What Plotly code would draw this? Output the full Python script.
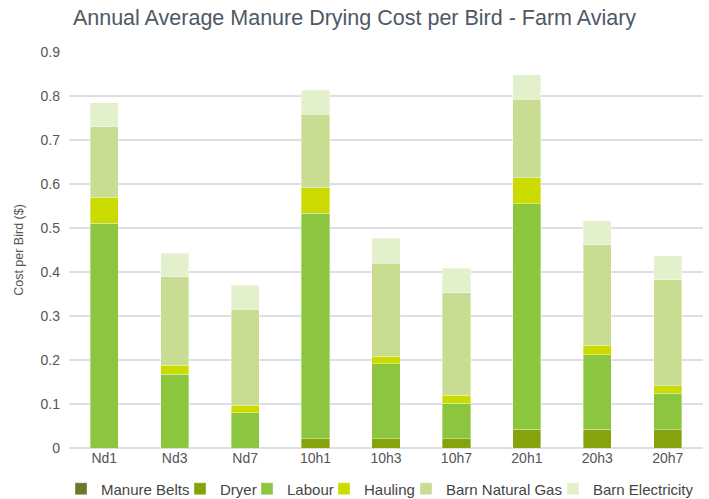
import plotly.graph_objects as go

categories = ["Nd1", "Nd3", "Nd7", "10h1", "10h3", "10h7", "20h1", "20h3", "20h7"]
manure_belts = [0, 0, 0, 0, 0, 0, 0, 0, 0]
dryer = [0, 0, 0, 0.021, 0.021, 0.021, 0.043, 0.043, 0.041]
labour = [0.511, 0.168, 0.080, 0.512, 0.170, 0.081, 0.512, 0.169, 0.083]
hauling = [0.059, 0.020, 0.017, 0.059, 0.018, 0.018, 0.059, 0.022, 0.018]
barn_gas = [0.160, 0.201, 0.218, 0.166, 0.211, 0.233, 0.179, 0.228, 0.240]
barn_elec = [0.055, 0.054, 0.055, 0.055, 0.057, 0.055, 0.055, 0.054, 0.055]

series = [
    ("Manure Belts", manure_belts, "#6b7a2a", 74),
    ("Dryer", dryer, "#86a30b", 22),
    ("Labour", labour, "#8cc63f", 32),
    ("Hauling", hauling, "#cbdb00", 37),
    ("Barn Natural Gas", barn_gas, "#c8dd92", 102),
    ("Barn Electricity", barn_elec, "#e3f0cc", 95),
]

fig = go.Figure()
for name, vals, color, lw in series:
    fig.add_trace(go.Bar(
        x=categories, y=vals, name=name, legendwidth=lw,
        marker=dict(color=color, line=dict(color="rgba(255,255,255,0.6)", width=0.6)),
    ))

font_family = "Liberation Sans, Arial, sans-serif"
fig.update_layout(
    barmode="stack",
    bargap=0.6,
    width=709, height=499,
    margin=dict(l=69, r=6, t=52, b=51, autoexpand=False),
    paper_bgcolor="white", plot_bgcolor="white",
    font=dict(family=font_family, size=14, color="#555555"),
    title=dict(text="Annual Average Manure Drying Cost per Bird - Farm Aviary",
               x=0.5, xanchor="center", y=0.965, yanchor="middle",
               font=dict(size=21.5, color="#4d5966", family=font_family)),
    yaxis=dict(range=[0, 0.9], dtick=0.1, showgrid=True, gridcolor="#dce0e5", gridwidth=1.5,
               zeroline=True, zerolinecolor="#dce0e5", zerolinewidth=1.5,
               tickfont=dict(size=14, color="#555555"), ticks="", ticklabelstandoff=8,
               title=dict(text="Cost per Bird ($)", font=dict(size=12.5, color="#555555"), standoff=14)),
    xaxis=dict(showgrid=False, tickfont=dict(size=14, color="#555555"), ticks=""),
    legend=dict(orientation="h", x=-0.0126, xanchor="left", y=-0.1035, yanchor="middle",
                font=dict(size=15, color="#444444"), itemwidth=30, traceorder="normal",
                tracegroupgap=0, entrywidthmode="pixels"),
    showlegend=True,
)

fig.write_html("out.html")
